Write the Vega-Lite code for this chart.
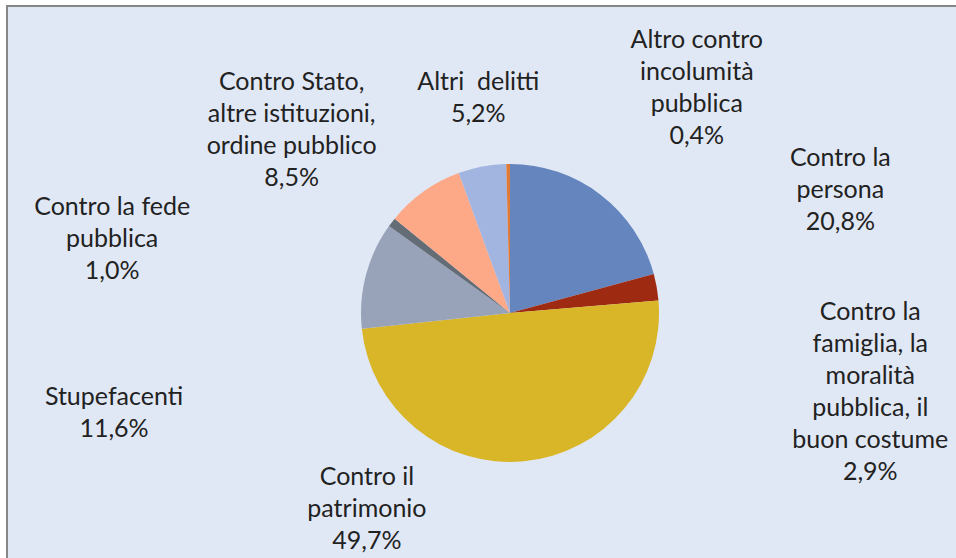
{
  "$schema": "https://vega.github.io/schema/vega-lite/v6.json",
  "width": 1006,
  "height": 614,
  "autosize": "none",
  "padding": {"left": 7, "top": 6, "right": 0, "bottom": 0},
  "background": "white",
  "view": {"fill": "#e1e8f5", "stroke": "#878787", "strokeWidth": 2},
  "config": {"style": {"view": {"fill": "#e1e8f5", "stroke": "#878787", "strokeWidth": 2}}},
  "data": {"values": [
    {"i": 1, "cat": "Contro la persona", "label": "Contro la\npersona\n20,8%", "v": 20.8},
    {"i": 2, "cat": "Contro la famiglia, la moralità pubblica, il buon costume", "label": "Contro la\nfamiglia, la\nmoralità\npubblica, il\nbuon costume\n2,9%", "v": 2.9},
    {"i": 3, "cat": "Contro il patrimonio", "label": "Contro il\npatrimonio\n49,7%", "v": 49.7},
    {"i": 4, "cat": "Stupefacenti", "label": "Stupefacenti\n11,6%", "v": 11.6},
    {"i": 5, "cat": "Contro la fede pubblica", "label": "Contro la fede\npubblica\n1,0%", "v": 1.0},
    {"i": 6, "cat": "Contro Stato, altre istituzioni, ordine pubblico", "label": "Contro Stato,\naltre istituzioni,\nordine pubblico\n8,5%", "v": 8.5},
    {"i": 7, "cat": "Altri delitti", "label": "Altri\u00a0 delitti\n5,2%", "v": 5.2},
    {"i": 8, "cat": "Altro contro incolumità pubblica", "label": "Altro contro\nincolumità\npubblica\n0,4%", "v": 0.4}
  ]},
  "encoding": {
    "theta": {"field": "v", "type": "quantitative", "stack": true},
    "order": {"field": "i", "type": "quantitative"}
  },
  "layer": [
    {
      "mark": {"type": "arc", "outerRadius": 149},
      "encoding": {
        "color": {
          "field": "cat", "type": "nominal", "legend": null,
          "scale": {
            "domain": ["Contro la persona", "Contro la famiglia, la moralità pubblica, il buon costume", "Contro il patrimonio", "Stupefacenti", "Contro la fede pubblica", "Contro Stato, altre istituzioni, ordine pubblico", "Altri delitti", "Altro contro incolumità pubblica"],
            "range": ["#6585bf", "#9e2a12", "#d9b528", "#98a3ba", "#646c75", "#fda988", "#a2b5e0", "#e07a36"]
          }
        }
      }
    },
    {
      "mark": {"type": "text", "radius": 180, "dx": 221, "dy": -12, "align": "center", "baseline": "middle", "lineBreak": "\n", "font": "Lato", "fontSize": 25, "lineHeight": 32, "color": "#222222"},
      "encoding": {"text": {"condition": {"test": "datum.i === 1", "field": "label", "type": "nominal"}, "value": ""}}
    },
    {
      "mark": {"type": "text", "radius": 180, "dx": 183, "dy": 30, "align": "center", "baseline": "middle", "lineBreak": "\n", "font": "Lato", "fontSize": 25, "lineHeight": 32, "color": "#222222"},
      "encoding": {"text": {"condition": {"test": "datum.i === 2", "field": "label", "type": "nominal"}, "value": ""}}
    },
    {
      "mark": {"type": "text", "radius": 180, "dx": -160, "dy": -15, "align": "center", "baseline": "middle", "lineBreak": "\n", "font": "Lato", "fontSize": 25, "lineHeight": 32, "color": "#222222"},
      "encoding": {"text": {"condition": {"test": "datum.i === 3", "field": "label", "type": "nominal"}, "value": ""}}
    },
    {
      "mark": {"type": "text", "radius": 180, "dx": -222, "dy": 130, "align": "center", "baseline": "middle", "lineBreak": "\n", "font": "Lato", "fontSize": 25, "lineHeight": 32, "color": "#222222"},
      "encoding": {"text": {"condition": {"test": "datum.i === 4", "field": "label", "type": "nominal"}, "value": ""}}
    },
    {
      "mark": {"type": "text", "radius": 180, "dx": -255, "dy": 4, "align": "center", "baseline": "middle", "lineBreak": "\n", "font": "Lato", "fontSize": 25, "lineHeight": 32, "color": "#222222"},
      "encoding": {"text": {"condition": {"test": "datum.i === 5", "field": "label", "type": "nominal"}, "value": ""}}
    },
    {
      "mark": {"type": "text", "radius": 180, "dx": -114, "dy": -84, "align": "center", "baseline": "middle", "lineBreak": "\n", "font": "Lato", "fontSize": 25, "lineHeight": 32, "color": "#222222"},
      "encoding": {"text": {"condition": {"test": "datum.i === 6", "field": "label", "type": "nominal"}, "value": ""}}
    },
    {
      "mark": {"type": "text", "radius": 180, "dx": 2, "dy": -54, "align": "center", "baseline": "middle", "lineBreak": "\n", "font": "Lato", "fontSize": 25, "lineHeight": 32, "color": "#222222"},
      "encoding": {"text": {"condition": {"test": "datum.i === 7", "field": "label", "type": "nominal"}, "value": ""}}
    },
    {
      "mark": {"type": "text", "radius": 180, "dx": 189, "dy": -93, "align": "center", "baseline": "middle", "lineBreak": "\n", "font": "Lato", "fontSize": 25, "lineHeight": 32, "color": "#222222"},
      "encoding": {"text": {"condition": {"test": "datum.i === 8", "field": "label", "type": "nominal"}, "value": ""}}
    }
  ]
}
